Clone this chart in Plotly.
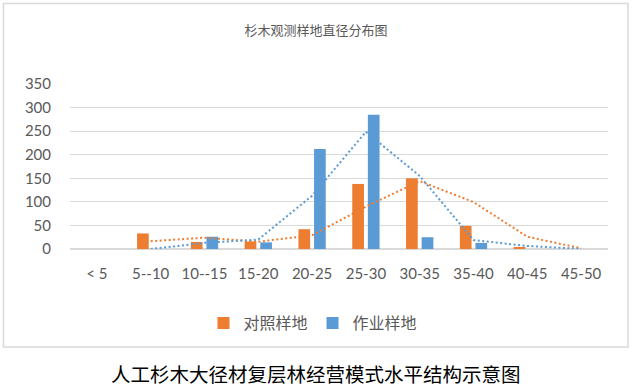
import plotly.graph_objects as go

categories = ["< 5", "5--10", "10--15", "15-20", "20-25", "25-30", "30-35", "35-40", "40-45", "45-50"]
control_plot = [0, 33, 15, 16, 42, 138, 150, 49, 3, 0]        # 对照样地
work_plot = [0, 0, 26, 14, 212, 285, 25, 13, 0, 0]            # 作业样地
control_trend = [None, 16.5, 24, 15.5, 29, 90, 144, 99.5, 26, 1.5]
work_trend = [None, 0, 13, 20, 113, 248.5, 155, 19, 6.5, 0]
y_ticks = [0, 50, 100, 150, 200, 250, 300, 350]

ORANGE = "#ED7D31"
BLUE = "#5B9BD5"
GRAY = "#595959"
GRID = "#D9D9D9"

W, H = 632, 387
L, R, T, B = 70, 24, 84, 138
pw, ph = W - L - R, H - T - B

def px_x(x):
    return (x - L) / pw

def px_y(y):
    return (H - B - y) / ph

fig = go.Figure()
fig.add_trace(go.Bar(name="对照样地", x=categories, y=control_plot,
                     marker=dict(color=ORANGE, line=dict(width=0))))
fig.add_trace(go.Bar(name="作业样地", x=categories, y=work_plot,
                     marker=dict(color=BLUE, line=dict(width=0))))
fig.add_trace(go.Scatter(x=categories, y=control_trend, mode="lines", showlegend=False,
                         line=dict(color=ORANGE, width=2, dash="2px,2.5px"), hoverinfo="skip"))
fig.add_trace(go.Scatter(x=categories, y=work_trend, mode="lines", showlegend=False,
                         line=dict(color=BLUE, width=2, dash="2px,2.5px"), hoverinfo="skip"))

fig.update_layout(
    width=W, height=H,
    margin=dict(l=L, r=R, t=T, b=B, pad=0),
    paper_bgcolor="white", plot_bgcolor="white",
    barmode="group", bargap=0.42, bargroupgap=0.25,
    title=dict(text="杉木观测样地直径分布图", x=0.5, xanchor="center",
               y=1 - 30 / H, yanchor="middle",
               font=dict(family="Noto Sans CJK SC", size=13, color=GRAY)),
    xaxis=dict(type="category", categoryorder="array", categoryarray=categories,
               range=[-0.5, len(categories) - 0.5],
               showgrid=False, showline=False, zeroline=False, ticks="",
               tickfont=dict(family="Lato", size=15, color=GRAY),
               ticklabelstandoff=14),
    yaxis=dict(range=[0, 350], tickvals=y_ticks, showgrid=True, gridcolor=GRID, gridwidth=1,
               zeroline=True, zerolinecolor=GRID, zerolinewidth=1.5, showline=False, ticks="",
               tickfont=dict(family="Lato", size=15, color=GRAY),
               ticklabelstandoff=18),
    legend=dict(orientation="h", x=px_x(313), xanchor="center", y=px_y(323), yanchor="middle",
                font=dict(family="Noto Sans CJK SC", size=16, color=GRAY),
                itemwidth=30, bgcolor="rgba(0,0,0,0)"),
    showlegend=True,
    shapes=[dict(type="rect", xref="paper", yref="paper",
                 x0=px_x(3.5), x1=px_x(628), y0=px_y(347), y1=px_y(3.5),
                 line=dict(color=GRID, width=1.5), fillcolor="rgba(0,0,0,0)", layer="below")],
    annotations=[dict(text="人工杉木大径材复层林经营模式水平结构示意图", xref="paper", yref="paper",
                      x=px_x(316), y=px_y(373), xanchor="center", yanchor="middle", showarrow=False,
                      font=dict(family="Noto Sans CJK SC", size=19.5, color="black"))],
)

fig.write_html("out.html", config={"displayModeBar": False},
               post_script="document.body.style.margin='0';document.body.style.padding='0';")
